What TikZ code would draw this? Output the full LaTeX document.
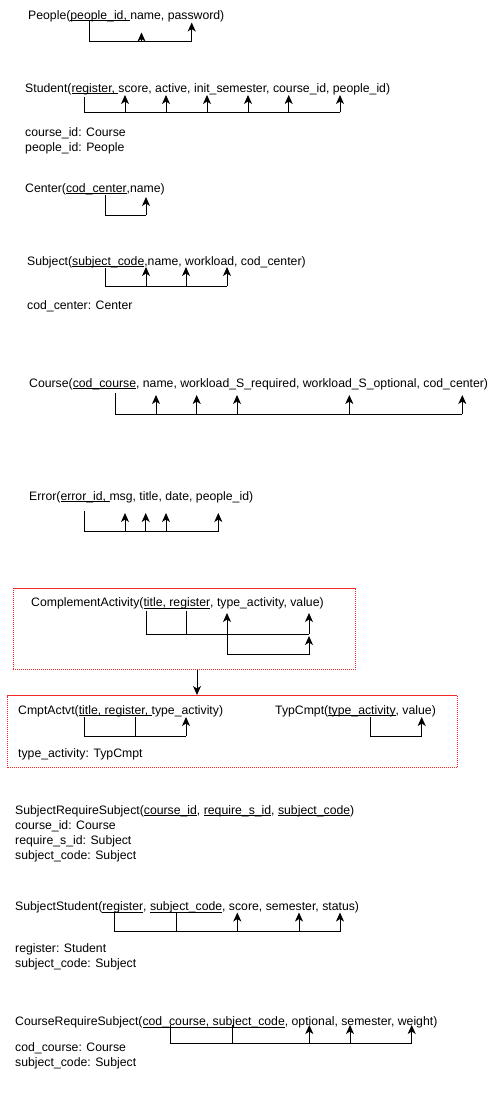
\documentclass[tikz,border=0pt]{standalone}
\usepackage{fontspec}
\setmainfont{Liberation Sans}
\usetikzlibrary{arrows.meta}
\definecolor{grpred}{RGB}{240,40,40}
\newcommand\uln[1]{\setbox0=\hbox{#1}\rlap{\rule[-2pt]{\wd0}{0.8pt}}\box0}
\tikzset{
  lbl/.style={anchor=base west, inner sep=0pt, font=\fontsize{12.25}{15}\selectfont},
  ln/.style={draw=black, line width=1pt},
  fk/.style={draw=black, line width=1pt, -{Stealth[length=9pt,width=8pt,inset=2.5pt]}},
  fkb/.style={draw=black, line width=1pt, {Stealth[length=9pt,width=8pt,inset=2.5pt]}-{Stealth[length=9pt,width=8pt,inset=2.5pt]}},
  grp/.style={draw=grpred, dash pattern=on 1.2pt off 0.8pt, line width=1pt}
}
\begin{document}
\begin{tikzpicture}[x=1pt,y=-1pt]
\useasboundingbox (0,0) rectangle (501,1096);

% ---------- People
\node[lbl] (people) at (28,19) {People(\uln{people\_id, }name, password)};
\coordinate (Ppk) at (89,21);
\coordinate (Pname) at (141.5,32.5);
\coordinate (Ppass) at (191.7,22.5);
\coordinate (Pbus) at (0,41);
\draw[ln] (Ppk) -- (Ppk |- Pbus) -- (Ppass |- Pbus);
\draw[fk] (Pname |- Pbus) -- (Pname);
\draw[fk] (Ppass |- Pbus) -- (Ppass);

% ---------- Student
\node[lbl] (student) at (25,92) {Student(\uln{register, }score, active, init\_semester, course\_id, people\_id)};
\coordinate (Spk) at (84,96.5);
\coordinate (Sbus) at (0,112);
\coordinate (S1) at (125,95);
\coordinate (S2) at (166,95);
\coordinate (S3) at (207,95);
\coordinate (S4) at (248,95);
\coordinate (S5) at (288.7,95);
\coordinate (S6) at (340,95);
\draw[ln] (Spk) -- (Spk |- Sbus) -- (S6 |- Sbus);
\foreach \t in {S1,S2,S3,S4,S5,S6} \draw[fk] (\t |- Sbus) -- (\t);
\node[lbl] (studentn1) at (25,136) {course\_id: Course};
\node[lbl] (studentn2) at (25,151) {people\_id: People};

% ---------- Center
\node[lbl] (center) at (25,192) {Center(\uln{cod\_center},name)};
\coordinate (Cpk) at (105,195);
\coordinate (Cname) at (146,197);
\coordinate (Cbus) at (0,215);
\draw[ln] (Cpk) -- (Cpk |- Cbus) -- (Cname |- Cbus);
\draw[fk] (Cname |- Cbus) -- (Cname);

% ---------- Subject
\node[lbl] (subject) at (27,265) {Subject(\uln{subject\_code},name, workload, cod\_center)};
\coordinate (Upk) at (105,268);
\coordinate (Ubus) at (0,286);
\coordinate (U1) at (146,267);
\coordinate (U2) at (186,267);
\coordinate (U3) at (227,267);
\draw[ln] (Upk) -- (Upk |- Ubus) -- (U3 |- Ubus);
\foreach \t in {U1,U2,U3} \draw[fk] (\t |- Ubus) -- (\t);
\node[lbl] (subjectn1) at (27,309) {cod\_center: Center};

% ---------- Course
\node[lbl] (course) at (29,387) {Course(\uln{cod\_course}, name, workload\_S\_required, workload\_S\_optional, cod\_center)};
\coordinate (Opk) at (115,393);
\coordinate (Obus) at (0,414);
\coordinate (O1) at (156,395);
\coordinate (O2) at (196.7,395);
\coordinate (O3) at (237,395);
\coordinate (O4) at (349.3,395);
\coordinate (O5) at (462.3,395);
\draw[ln] (Opk) -- (Opk |- Obus) -- (O5 |- Obus);
\foreach \t in {O1,O2,O3,O4,O5} \draw[fk] (\t |- Obus) -- (\t);

% ---------- Error
\node[lbl] (error) at (29,500) {Error(\uln{error\_id, }msg, title, date, people\_id)};
\coordinate (Epk) at (84,510.5);
\coordinate (Ebus) at (0,531.7);
\coordinate (E1) at (125,513);
\coordinate (E2) at (145.7,513);
\coordinate (E3) at (166,513);
\coordinate (E4) at (218.3,513);
\draw[ln] (Epk) -- (Epk |- Ebus) -- (E4 |- Ebus);
\foreach \t in {E1,E2,E3,E4} \draw[fk] (\t |- Ebus) -- (\t);

% ---------- ComplementActivity
\node[grp, minimum width=342.3pt, minimum height=80.7pt, anchor=north west, inner sep=0pt] (grp1) at (12.7,588.3) {};
\node[lbl] (compl) at (31,606.7) {ComplementActivity(\uln{title, register}, type\_activity, value)};
\coordinate (Atitle) at (146,610.5);
\coordinate (Areg) at (186,610.5);
\coordinate (Abus) at (0,634);
\coordinate (Atype) at (227,613);
\coordinate (Aval) at (309,613);
\coordinate (Aloop) at (0,654);
\coordinate (Ajoin) at (309,636);
\draw[ln] (Atitle) -- (Atitle |- Abus) -- (Aval |- Abus);
\draw[ln] (Areg) -- (Areg |- Abus);
\draw[fk] (Aval |- Abus) -- (Aval);
\draw[fkb] (Atype) -- (Atype |- Aloop) -- (Ajoin |- Aloop) -- (Ajoin);

% ---------- decomposition box
\node[grp, minimum width=449.4pt, minimum height=72pt, anchor=north west, inner sep=0pt] (grp2) at (7.3,695) {};
\draw[fk] (grp1.south -| 197,0) -- (grp2.north -| 197,0);

\node[lbl] (cmpt) at (18,714) {CmptActvt(\uln{title, register, }type\_activity)};
\coordinate (Mt) at (84,716.5);
\coordinate (Mr) at (135,716.5);
\coordinate (Mbus) at (0,736);
\coordinate (Mty) at (186,717);
\draw[ln] (Mt) -- (Mt |- Mbus) -- (Mty |- Mbus);
\draw[ln] (Mr) -- (Mr |- Mbus);
\draw[fk] (Mty |- Mbus) -- (Mty);
\node[lbl] (cmptn1) at (18,757) {type\_activity: TypCmpt};

\node[lbl] (typ) at (275,714) {TypCmpt(\uln{type\_activity}, value)};
\coordinate (Tpk) at (370,716.5);
\coordinate (Tval) at (421.7,717);
\coordinate (Tbus) at (0,736);
\draw[ln] (Tpk) -- (Tpk |- Tbus) -- (Tval |- Tbus);
\draw[fk] (Tval |- Tbus) -- (Tval);

% ---------- SubjectRequireSubject
\node[lbl] (srs) at (15,814) {SubjectRequireSubject(\uln{course\_id}, \uln{require\_s\_id}, \uln{subject\_code})};
\node[lbl] (srsn1) at (15,829.3) {course\_id: Course};
\node[lbl] (srsn2) at (15,844.3) {require\_s\_id: Subject};
\node[lbl] (srsn3) at (15,859.3) {subject\_code: Subject};

% ---------- SubjectStudent
\node[lbl] (ss) at (15,910.7) {SubjectStudent(\uln{register}, \uln{subject\_code}, score, semester, status)};
\coordinate (Xr) at (114,913);
\coordinate (Xs) at (176,913);
\coordinate (Xbus) at (0,931.7);
\coordinate (X1) at (237.3,912.5);
\coordinate (X2) at (299,912.5);
\coordinate (X3) at (340,912.5);
\draw[ln] (Xr) -- (Xr |- Xbus) -- (X3 |- Xbus);
\draw[ln] (Xs) -- (Xs |- Xbus);
\foreach \t in {X1,X2,X3} \draw[fk] (\t |- Xbus) -- (\t);
\node[lbl] (ssn1) at (15,952.7) {register: Student};
\node[lbl] (ssn2) at (15,967.7) {subject\_code: Subject};

% ---------- CourseRequireSubject
\node[lbl] (crs) at (15,1025.7) {CourseRequireSubject(\uln{cod\_course, subject\_code}, optional, semester, weight)};
\coordinate (Rc) at (170,1024.5);
\coordinate (Rs) at (232.3,1024.5);
\coordinate (Rbus) at (0,1043.3);
\coordinate (R1) at (309.3,1025);
\coordinate (R2) at (350,1025);
\coordinate (R3) at (411.7,1025);
\draw[ln] (Rc) -- (Rc |- Rbus) -- (R3 |- Rbus);
\draw[ln] (Rs) -- (Rs |- Rbus);
\foreach \t in {R1,R2,R3} \draw[fk] (\t |- Rbus) -- (\t);
\node[lbl] (crsn1) at (15,1051) {cod\_course: Course};
\node[lbl] (crsn2) at (15,1066) {subject\_code: Subject};
\end{tikzpicture}
\end{document}
